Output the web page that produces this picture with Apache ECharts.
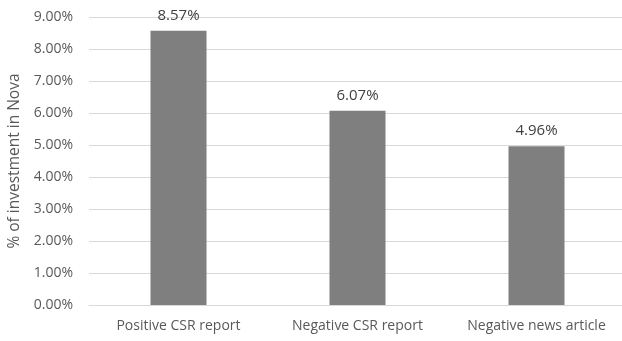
<!DOCTYPE html>
<html>
<head>
<meta charset="utf-8">
<script src="https://cdn.jsdelivr.net/npm/echarts@6/dist/echarts.min.js"></script>
<style>
  html, body { margin: 0; padding: 0; background: #fff; }
  #chart { width: 622px; height: 341px; }
</style>
</head>
<body>
<div id="chart"></div>
<script>
var categories = ['Positive CSR report', 'Negative CSR report', 'Negative news article'];
var values = [8.57, 6.07, 4.96];
var yName = '% of investment in Nova';

var chart = echarts.init(document.getElementById('chart'));
chart.setOption({
    animation: false,
    textStyle: { fontFamily: 'Open Sans' },
    grid: { left: 89, top: 17, bottom: 36, width: 537, outerBoundsMode: 'none' },
    xAxis: {
        type: 'category',
        data: categories,
        axisLine: { lineStyle: { color: '#d9d9d9' } },
        axisTick: { show: false },
        axisLabel: { color: '#595959', fontSize: 14, margin: 14, interval: 0, hideOverlap: false }
    },
    yAxis: {
        type: 'value',
        min: 0,
        max: 9,
        interval: 1,
        name: yName,
        nameLocation: 'middle',
        nameGap: 66,
        nameTextStyle: { color: '#595959', fontSize: 15.5 },
        axisLabel: {
            color: '#595959', fontSize: 14, margin: 16,
            formatter: function (v) { return v.toFixed(2) + '%'; }
        },
        splitLine: { lineStyle: { color: '#d9d9d9' } }
    },
    series: [{
        type: 'bar',
        data: values,
        barWidth: 56,
        itemStyle: { color: '#7f7f7f' },
        label: {
            show: true,
            position: 'top',
            distance: 8,
            color: '#404040',
            fontSize: 15,
            formatter: function (p) { return p.value.toFixed(2) + '%'; }
        }
    }]
});
</script>
</body>
</html>
